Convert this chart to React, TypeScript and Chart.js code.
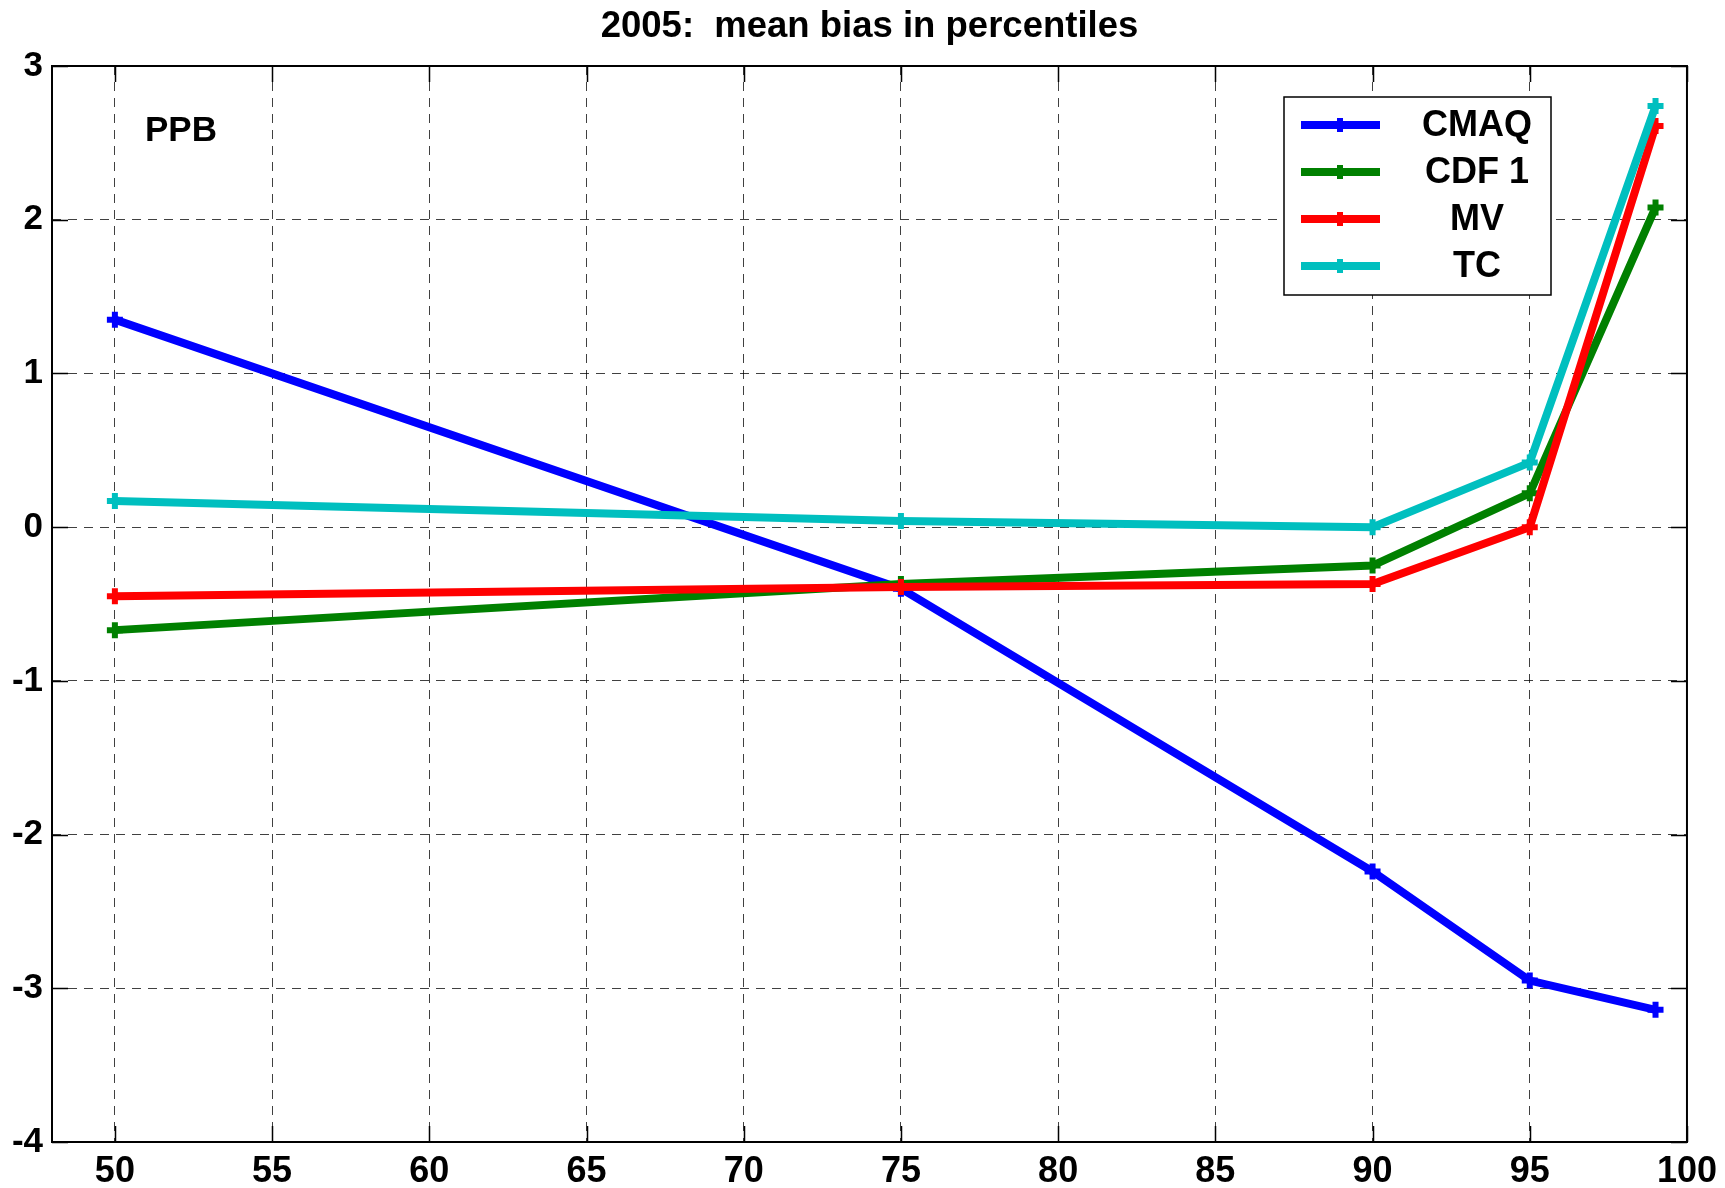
import { useEffect, useRef } from "react";
import { Chart, registerables } from "chart.js";

Chart.register(...registerables);

// Percentile levels on the x axis
const percentiles = [50, 75, 90, 95, 99];

// Mean bias (ppb) per method at each percentile
const cmaqBias = [1.35, -0.4, -2.24, -2.95, -3.14];
const cdf1Bias = [-0.67, -0.37, -0.25, 0.22, 2.08];
const mvBias = [-0.45, -0.39, -0.37, 0.0, 2.61];
const tcBias = [0.17, 0.04, 0.0, 0.42, 2.74];

const seriesNames = ["CMAQ", "CDF 1", "MV", "TC"];
const seriesColors = ["#0000ff", "#008000", "#ff0000", "#00bfbf"];

const xTicks = [50, 55, 60, 65, 70, 75, 80, 85, 90, 95, 100];
const yTicks = [-4, -3, -2, -1, 0, 1, 2, 3];

const titleText = "2005:  mean bias in percentiles";
const unitLabel = "PPB";

const FONT = "'Liberation Sans', Arial, Helvetica, sans-serif";
const FONT_SIZE = 35;
const LINE_W = 8;

// Title centred over the plot area
const plotTitle = {
  id: "plotTitle",
  afterDraw(chart: any) {
    const { ctx, chartArea: a } = chart;
    ctx.save();
    ctx.font = `bold 36.5px ${FONT}`;
    ctx.fillStyle = "#000";
    ctx.textAlign = "center";
    ctx.textBaseline = "middle";
    ctx.fillText(titleText, (a.left + a.right) / 2, a.top - 39);
    ctx.restore();
  },
};

// Box around the plot area plus inward tick marks on all four sides
const frameBox = {
  id: "frameBox",
  afterDatasetsDraw(chart: any) {
    const { ctx, chartArea: a, scales } = chart;
    ctx.save();
    ctx.strokeStyle = "#000";
    ctx.lineWidth = 1.5;
    const tl = 16;
    ctx.beginPath();
    for (const v of xTicks) {
      const x = Math.round(scales.x.getPixelForValue(v)) + 0.5;
      ctx.moveTo(x, a.bottom);
      ctx.lineTo(x, a.bottom - tl);
      ctx.moveTo(x, a.top);
      ctx.lineTo(x, a.top + tl);
    }
    for (const v of yTicks) {
      const y = Math.round(scales.y.getPixelForValue(v)) + 0.5;
      ctx.moveTo(a.left, y);
      ctx.lineTo(a.left + tl, y);
      ctx.moveTo(a.right, y);
      ctx.lineTo(a.right - tl, y);
    }
    ctx.stroke();
    ctx.lineWidth = 2;
    ctx.strokeRect(a.left, a.top, a.right - a.left, a.bottom - a.top);
    ctx.restore();
  },
};

// Unit label in the upper-left corner of the plot
const unitText = {
  id: "unitText",
  afterDatasetsDraw(chart: any) {
    const { ctx, chartArea: a } = chart;
    ctx.save();
    ctx.font = `bold ${FONT_SIZE}px ${FONT}`;
    ctx.fillStyle = "#000";
    ctx.textAlign = "left";
    ctx.textBaseline = "middle";
    ctx.fillText(unitLabel, a.left + 93, a.top + 65);
    ctx.restore();
  },
};

// Boxed legend in the upper-right of the plot
const boxLegend = {
  id: "boxLegend",
  afterDatasetsDraw(chart: any) {
    const { ctx, chartArea: a } = chart;
    const boxLeft = a.left + 1232;
    const boxTop = a.top + 31;
    const boxW = 267;
    const boxH = 198;
    ctx.save();
    ctx.fillStyle = "#fff";
    ctx.fillRect(boxLeft, boxTop, boxW, boxH);
    ctx.strokeStyle = "#000";
    ctx.lineWidth = 1.5;
    ctx.strokeRect(boxLeft, boxTop, boxW, boxH);
    chart.data.datasets.forEach((ds: any, i: number) => {
      const y = boxTop + 28 + i * 47;
      ctx.strokeStyle = ds.borderColor;
      ctx.lineWidth = LINE_W;
      ctx.beginPath();
      ctx.moveTo(boxLeft + 17, y);
      ctx.lineTo(boxLeft + 96, y);
      ctx.stroke();
      ctx.lineWidth = 6;
      ctx.beginPath();
      const mx = boxLeft + 56;
      ctx.moveTo(mx - 7, y);
      ctx.lineTo(mx + 7, y);
      ctx.moveTo(mx, y - 7);
      ctx.lineTo(mx, y + 7);
      ctx.stroke();
      ctx.font = `bold 36px ${FONT}`;
      ctx.fillStyle = "#000";
      ctx.textAlign = "center";
      ctx.textBaseline = "middle";
      ctx.fillText(ds.label, boxLeft + 193, y + 1);
    });
    ctx.restore();
  },
};

const seriesValues = [cmaqBias, cdf1Bias, mvBias, tcBias];

export default function App() {
  const canvasRef = useRef<HTMLCanvasElement | null>(null);

  useEffect(() => {
    if (!canvasRef.current) return;
    const datasets = seriesValues.map((vals, i) => ({
      label: seriesNames[i],
      data: percentiles.map((p, k) => ({ x: p, y: vals[k] })),
      borderColor: seriesColors[i],
      backgroundColor: seriesColors[i],
      pointBorderColor: seriesColors[i],
      pointBackgroundColor: seriesColors[i],
      borderWidth: LINE_W,
      pointStyle: "cross" as const,
      pointRadius: 8,
      pointBorderWidth: 6,
      tension: 0,
      order: seriesValues.length - i,
    }));

    const chart = new Chart(canvasRef.current, {
      type: "line",
      data: { datasets },
      options: {
        animation: false,
        responsive: false,
        maintainAspectRatio: false,
        layout: { padding: { left: 0, right: 35, top: 66, bottom: 0 } },
        plugins: {
          legend: { display: false },
          tooltip: { enabled: false },
          title: { display: false },
        },
        scales: {
          x: {
            type: "linear",
            min: 48,
            max: 100,
            afterBuildTicks: (scale: any) => {
              scale.ticks = xTicks.map((v) => ({ value: v }));
            },
            afterFit: (scale: any) => {
              scale.height = 46;
            },
            grid: {
              color: "rgba(0,0,0,0.75)",
              lineWidth: 1,
              drawTicks: false,
            },
            border: { display: false, dash: [9, 7] },
            ticks: {
              color: "#000",
              padding: 8,
              maxRotation: 0,
              font: { family: FONT, size: 36, weight: "bold" },
            },
          },
          y: {
            type: "linear",
            min: -4,
            max: 3,
            afterBuildTicks: (scale: any) => {
              scale.ticks = yTicks.map((v) => ({ value: v }));
            },
            afterFit: (scale: any) => {
              scale.width = 52;
            },
            grid: {
              color: "rgba(0,0,0,0.75)",
              lineWidth: 1,
              drawTicks: false,
            },
            border: { display: false, dash: [9, 7] },
            ticks: {
              color: "#000",
              padding: 9,
              font: { family: FONT, size: FONT_SIZE, weight: "bold" },
            },
          },
        },
      },
      plugins: [frameBox, unitText, boxLegend, plotTitle],
    });

    return () => chart.destroy();
  }, []);

  return (
    <div style={{ position: "fixed", left: 0, top: 0, width: 1725, height: 1188, background: "#fff" }}>
      <canvas ref={canvasRef} width={1725} height={1188} />
    </div>
  );
}
